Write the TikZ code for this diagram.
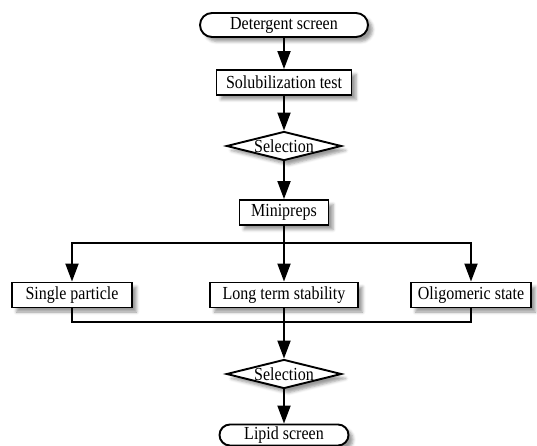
\documentclass[tikz,border=0pt]{standalone}
\usepackage{fontspec}
\setmainfont{Liberation Serif}
\usetikzlibrary{arrows.meta,shapes.geometric,shapes.misc,shadows.blur}
% labels are set slightly taller than wide
\newcommand\lbl[1]{\scalebox{1}[1.15]{#1}}
\begin{document}
\begin{tikzpicture}[x=1pt,y=-1pt,
  base/.style={draw=black, line width=1.9pt, fill=white, inner sep=0pt,
    font=\fontsize{16}{18}\selectfont,
    blur shadow={shadow xshift=4.5pt, shadow yshift=-4.5pt, shadow blur radius=3pt, shadow opacity=40}},
  term/.style={base, rounded rectangle, minimum height=#1},
  stepbox/.style={base, rectangle, minimum height=25pt},
  decide/.style={base, diamond, aspect=4, minimum width=115pt, minimum height=29pt},
  arr/.style={line width=1.9pt, -{Triangle[length=18pt,width=13pt]}},
  ln/.style={line width=1.9pt}]
\useasboundingbox (0,0) rectangle (537,446);

% main column
\node[term=24pt, minimum width=168pt] (det) at (284,25) {\lbl{Detergent screen}};
\node[stepbox, minimum width=135pt] (sol) at (284,82.5) {\lbl{Solubilization test}};
\node[decide] (sel1) at (284,146) {\lbl{Selection}};
\node[stepbox, minimum width=89pt] (mini) at (284,212.5) {\lbl{Minipreps}};

% parallel checks
\node[stepbox, minimum width=120pt] (sp) at (72,295) {\lbl{Single particle}};
\node[stepbox, minimum width=148pt] (lt) at (284,295) {\lbl{Long term stability}};
\node[stepbox, minimum width=120pt] (os) at (471,295) {\lbl{Oligomeric state}};

\node[decide] (sel2) at (284,374) {\lbl{Selection}};
\node[term=21pt, minimum width=129pt] (lip) at (284,435) {\lbl{Lipid screen}};

\coordinate (bc) at (284,243);
\coordinate (mc) at (284,322);

\draw[arr] (det.south) -- (sol.north);
\draw[arr] (sol.south) -- (sel1.north);
\draw[arr] (sel1.south) -- (mini.north);
\draw[arr] (mini.south) -- (bc) -- (lt.north);
\draw[arr] (bc) -| (sp.north);
\draw[arr] (bc) -| (os.north);
\draw[ln] (sp.south) |- (mc) -| (os.south);
\draw[ln] (lt.south) -- (mc);
\draw[arr] (mc) -- (sel2.north);
\draw[arr] (sel2.south) -- (lip.north);
\end{tikzpicture}
\end{document}
